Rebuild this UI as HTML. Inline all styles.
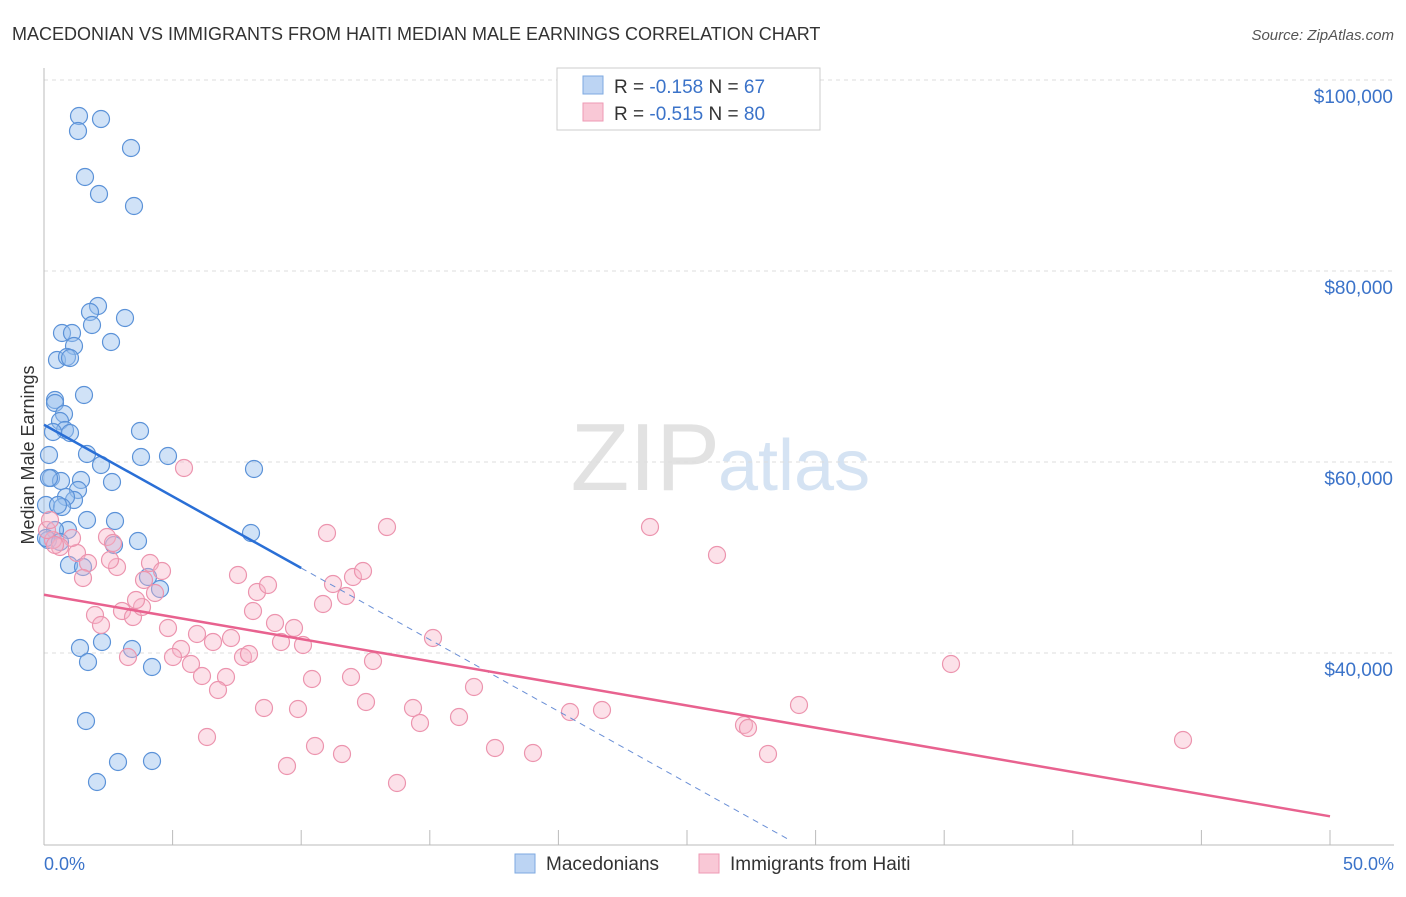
<!DOCTYPE html>
<html><head><meta charset="utf-8">
<style>
body{margin:0;background:#fff;font-family:"Liberation Sans",sans-serif;}
svg text{font-family:"Liberation Sans",sans-serif;}
</style></head>
<body>
<svg id="chart" width="1406" height="892" viewBox="0 0 1406 892" xmlns="http://www.w3.org/2000/svg">
<text x="12" y="40" font-size="18" fill="#333">MACEDONIAN VS IMMIGRANTS FROM HAITI MEDIAN MALE EARNINGS CORRELATION CHART</text>
<text x="1394" y="40" font-size="15" fill="#555" text-anchor="end" font-style="italic">Source: ZipAtlas.com</text>
<text x="720" y="490" font-size="96" fill="#e2e2e2" text-anchor="end" font-family="Liberation Serif">ZIP</text>
<text x="718" y="490" font-size="72" fill="#d5e3f3">atlas</text>
<g id="grid"></g>
<g id="ylabels"></g>
<g id="xaxis"></g>
<g id="pts"></g>
<g id="trends"></g>
<text transform="translate(34,455) rotate(-90)" font-size="18" fill="#333" text-anchor="middle">Median Male Earnings</text>
<text x="44" y="870" font-size="18" fill="#3b73c9">0.0%</text>
<text x="1394" y="870" font-size="18" fill="#3b73c9" text-anchor="end">50.0%</text>
<g>
<rect x="557" y="68" width="263" height="62" fill="#fff" stroke="#ccc"/>
<rect x="583" y="76" width="20" height="18" fill="#bcd4f3" stroke="#7ea9e0"/>
<rect x="583" y="103" width="20" height="18" fill="#f9c8d6" stroke="#ee9ab4"/>
<text x="614" y="93" font-size="19" fill="#333">R = <tspan fill="#3b73c9">-0.158</tspan>   N = <tspan fill="#3b73c9">67</tspan></text>
<text x="614" y="120" font-size="19" fill="#333">R = <tspan fill="#3b73c9">-0.515</tspan>   N = <tspan fill="#3b73c9">80</tspan></text>
</g>
<g>
<rect x="515" y="854" width="20" height="19" fill="#bcd4f3" stroke="#7ea9e0"/>
<text x="546" y="870" font-size="19" fill="#333">Macedonians</text>
<rect x="699" y="854" width="20" height="19" fill="#f9c8d6" stroke="#ee9ab4"/>
<text x="730" y="870" font-size="19" fill="#333">Immigrants from Haiti</text>
</g>
</svg>
<script>
const yTicks=[40000,60000,80000,100000];
const yTickLabels=["$40,000","$60,000","$80,000","$100,000"];
const xTicks=[0,5,10,15,20,25,30,35,40,45,50];
const bluePx=[[79,116],[101,119],[78,131],[131,148],[85,177],[99,194],[134,206],[98,306],[90,312],[92,325],[125,318],[62,333],[72,333],[74,346],[111,342],[57,360],[67,357],[70,358],[55,400],[55,403],[84,395],[64,414],[60,421],[65,430],[53,432],[70,433],[140,431],[168,456],[101,465],[141,457],[87,454],[49,455],[51,478],[61,481],[81,480],[78,490],[112,482],[74,500],[66,497],[46,505],[62,507],[58,505],[115,521],[87,520],[68,530],[254,469],[251,533],[138,541],[114,545],[69,565],[83,567],[148,577],[160,589],[80,648],[102,642],[132,649],[88,662],[152,667],[86,721],[118,762],[152,761],[97,782],[55,530],[48,540],[49,478],[46,538],[60,542]];
const pinkPx=[[184,468],[327,533],[387,527],[107,537],[113,543],[150,563],[162,571],[144,580],[155,593],[117,567],[77,553],[88,563],[83,578],[72,538],[60,547],[53,540],[47,530],[238,575],[257,592],[268,585],[253,611],[333,584],[353,577],[363,571],[346,596],[323,604],[433,638],[95,615],[101,625],[122,611],[133,617],[142,607],[168,628],[197,634],[213,642],[231,638],[181,649],[173,657],[191,664],[202,676],[226,677],[218,690],[243,657],[249,654],[275,623],[294,628],[281,642],[303,645],[373,661],[351,677],[312,679],[366,702],[264,708],[298,709],[413,708],[420,723],[207,737],[315,746],[342,754],[287,766],[397,783],[128,657],[474,687],[459,717],[495,748],[533,753],[570,712],[602,710],[650,527],[717,555],[744,725],[748,728],[768,754],[799,705],[951,664],[1183,740],[50,520],[55,545],[110,560],[136,600]];
// convert picture readings to data units
const blueX=bluePx.map(p=>(p[0]-44)/1286*50), blueY=bluePx.map(p=>100000-(p[1]-80)/191*20000);
const pinkX=pinkPx.map(p=>(p[0]-44)/1286*50), pinkY=pinkPx.map(p=>100000-(p[1]-80)/191*20000);
const blueTrend=[63900,48900,10,-1500]; // y at x0, y at x=10, solid end x, slope per %
const pinkTrend=[46100,22900];
const X0=44,X1=1330,YT=80;
const sx=v=>X0+v/50*(X1-X0);
const sy=v=>YT+(100000-v)/20000*191;
const NS="http://www.w3.org/2000/svg";
function mk(t,a,parent){const e=document.createElementNS(NS,t);for(const k in a)e.setAttribute(k,a[k]);parent.appendChild(e);return e;}
const grid=document.getElementById('grid'),yl=document.getElementById('ylabels'),xa=document.getElementById('xaxis');
yTicks.forEach((t,i)=>{
 const l=mk('line',{x1:44,x2:1394,y1:sy(t),y2:sy(t),stroke:'#ddd','stroke-dasharray':'4,4'},grid);
 
 
 const tx=mk('text',{x:1393,y:sy(t)+23,'font-size':19,fill:'#3b73c9','text-anchor':'end'},yl);
 tx.textContent=yTickLabels[i];
 
 
});
mk('line',{x1:44,x2:44,y1:68,y2:845,stroke:'#bbb'},xa);
mk('line',{x1:44,x2:1394,y1:845,y2:845,stroke:'#bbb'},xa);
xTicks.forEach(t=>{const l=mk('line',{x1:sx(t),x2:sx(t),y1:830,y2:845,stroke:'#bbb'},xa);
 
 });
const pts=document.getElementById('pts');
blueX.forEach((x,i)=>{const c=mk('circle',{cx:sx(x),cy:sy(blueY[i]),r:8.5,fill:'rgba(150,190,238,0.45)',stroke:'#5b92d8','stroke-width':1.2},pts);
 
 });
pinkX.forEach((x,i)=>{const c=mk('circle',{cx:sx(x),cy:sy(pinkY[i]),r:8.5,fill:'rgba(248,180,200,0.4)',stroke:'#ec94ae','stroke-width':1.2},pts);
 
 });
const tr=document.getElementById('trends');
const bl=x=>blueTrend[0]+(blueTrend[1]-blueTrend[0])/10*x;
let a=mk('line',{x1:sx(0),y1:sy(bl(0)),x2:sx(blueTrend[2]),y2:sy(bl(blueTrend[2])),stroke:'#2a6fd6','stroke-width':2.5},tr);


const xe=29;
a=mk('line',{x1:sx(blueTrend[2]),y1:sy(bl(blueTrend[2])),x2:sx(xe),y2:sy(bl(xe)),stroke:'#6a8fd6','stroke-width':1,'stroke-dasharray':'6,5'},tr);


a=mk('line',{x1:sx(0),y1:sy(pinkTrend[0]),x2:sx(50),y2:sy(pinkTrend[1]),stroke:'#e8628f','stroke-width':2.5},tr);


</script>
</body></html>
